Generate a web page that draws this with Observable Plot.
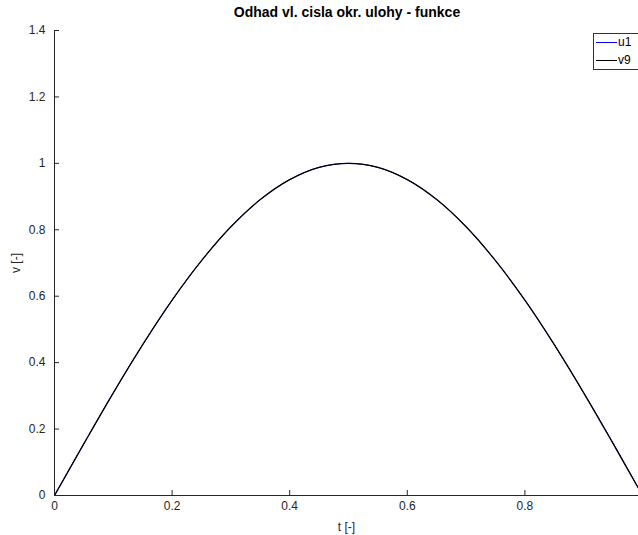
<!DOCTYPE html>
<html>
<head>
<meta charset="utf-8">
<script src="https://cdn.jsdelivr.net/npm/d3@7"></script>
<script src="https://cdn.jsdelivr.net/npm/@observablehq/plot@0.6"></script>
<style>
  html, body { margin: 0; padding: 0; background: #fff; overflow: hidden; }
  #wrap { position: relative; width: 638px; height: 535px; font-family: "Liberation Sans", Arial, sans-serif; }
  #title { height: 24px; line-height: 24px; text-align: center; font-weight: bold; font-size: 14px; color: #000; padding-left: 56px; box-sizing: border-box; }
  #legend { position: absolute; left: 593px; top: 33px; width: 50px; height: 37px; border: 1px solid #333; background: #fff; font-size: 12px; color: #000; box-sizing: border-box; }
  .li { position: absolute; left: 2px; display: flex; align-items: center; height: 16px; line-height: 16px; }
  .li span.sw { display: inline-block; width: 21px; height: 0; border-top: 1.2px solid; margin-right: 1px; }
</style>
</head>
<body>
<div id="wrap">
  <div id="title">Odhad vl. cisla okr. ulohy - funkce</div>
  <div id="chart"></div>
  <div id="legend"></div>
</div>
<script>
// Values
const t  = [0, 0.05, 0.1, 0.15, 0.2, 0.25, 0.3, 0.35, 0.4, 0.45, 0.5, 0.55, 0.6, 0.65, 0.7, 0.75, 0.8, 0.85, 0.9, 0.95, 1.0];
const u1 = [0, 0.156, 0.309, 0.454, 0.588, 0.707, 0.809, 0.891, 0.951, 0.988, 1.0, 0.988, 0.951, 0.891, 0.809, 0.707, 0.588, 0.454, 0.309, 0.158, 0];
const v9 = [0, 0.156, 0.309, 0.454, 0.588, 0.707, 0.809, 0.891, 0.951, 0.988, 1.0, 0.988, 0.951, 0.891, 0.809, 0.707, 0.588, 0.454, 0.309, 0.156, 0];
const seriesNames = ["u1", "v9"];
const seriesColors = ["#0000ff", "#000000"];
const xTicks = [0, 0.2, 0.4, 0.6, 0.8];
const yTicks = [0, 0.2, 0.4, 0.6, 0.8, 1, 1.2, 1.4];

const dataU = t.map((tv, i) => ({t: tv, v: u1[i], s: "u1"}));
const dataV = t.map((tv, i) => ({t: tv, v: v9[i], s: "v9"}));

const axisColor = "#262626";
const chart = Plot.plot({
  width: 638,
  height: 511,
  marginLeft: 54,
  marginRight: 0,
  marginTop: 6,
  marginBottom: 40,
  style: {fontFamily: "'Liberation Sans', Arial, sans-serif", fontSize: "12px", color: "#262626", background: "#fff"},
  x: {domain: [0, 1], range: [54, 642]},
  y: {domain: [0, 1.4]},
  color: {domain: seriesNames, range: seriesColors},
  marks: [
    Plot.line(dataU, {x: "t", y: "v", stroke: "s", strokeWidth: 1, curve: "catmull-rom", clip: true}),
    Plot.line(dataV, {x: "t", y: "v", stroke: "s", strokeWidth: 1.3, curve: "catmull-rom", clip: true}),
    Plot.ruleY([0], {stroke: axisColor, strokeWidth: 1}),
    Plot.ruleX([0], {stroke: axisColor, strokeWidth: 1}),
    Plot.axisX(xTicks, {tickSize: -5, tickPadding: 11, stroke: axisColor, fill: "#262626", tickFormat: d => String(d), label: "t [-]", labelAnchor: "center", labelOffset: 35, labelArrow: "none"}),
    Plot.axisY(yTicks, {tickSize: -5, tickPadding: 14, stroke: axisColor, fill: "#262626", tickFormat: d => String(d), label: "v [-]", labelAnchor: "center", labelOffset: 43, labelArrow: "none"})
  ]
});
document.getElementById("chart").appendChild(chart);

const leg = document.getElementById("legend");
seriesNames.forEach((n, i) => {
  const d = document.createElement("div");
  d.className = "li";
  d.style.top = (0 + i * 18) + "px";
  const sw = document.createElement("span");
  sw.className = "sw";
  sw.style.borderColor = seriesColors[i];
  d.appendChild(sw);
  d.appendChild(document.createTextNode(n));
  leg.appendChild(d);
});
</script>
</body>
</html>
